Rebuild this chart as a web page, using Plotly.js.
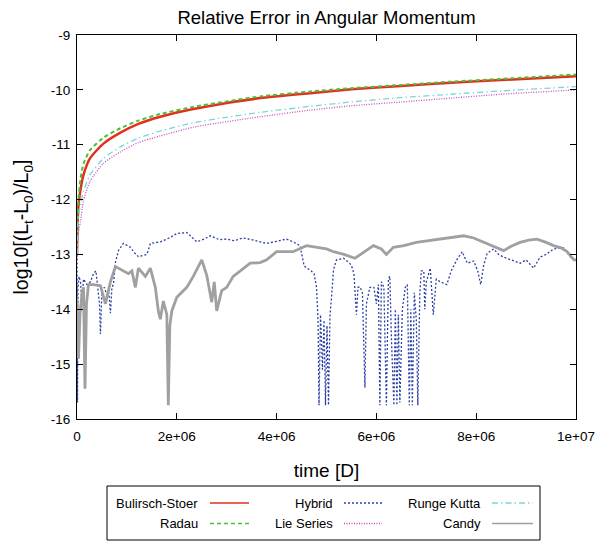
<!DOCTYPE html>
<html>
<head>
<meta charset="utf-8">
<script src="https://cdn.plot.ly/plotly-3.0.1.min.js"></script>
<style>html,body{margin:0;padding:0;background:#fff;}#chart{width:603px;height:542px;}</style>
</head>
<body>
<div id="chart"></div>
<script>
// ---- Data (time in days, values are log10 relative error) ----
var smoothTime = [0, 0.01e6, 0.03e6, 0.07e6, 0.13e6, 0.26e6, 0.53e6, 0.87e6, 1.23e6, 1.67e6, 2.33e6, 3.0e6, 3.67e6, 4.67e6, 5.5e6, 6.5e6, 7.5e6, 8.5e6, 1.0e7];
var bulirschStoer = [-13.0, -12.5, -12.1, -11.82, -11.55, -11.25, -10.98, -10.78, -10.62, -10.49, -10.35, -10.24, -10.15, -10.06, -9.99, -9.93, -9.87, -9.82, -9.75];
var radau = [-13.0, -12.4, -11.98, -11.62, -11.35, -11.1, -10.87, -10.7, -10.56, -10.44, -10.31, -10.21, -10.12, -10.03, -9.97, -9.91, -9.85, -9.8, -9.72];
var rungeKutta = [-13.0, -12.6, -12.3, -12.1, -11.85, -11.55, -11.25, -11.04, -10.88, -10.75, -10.6, -10.5, -10.41, -10.3, -10.22, -10.14, -10.08, -10.02, -9.94];
var lieSeries = [-13.1, -12.8, -12.6, -12.4, -12.02, -11.67, -11.34, -11.13, -10.96, -10.84, -10.68, -10.58, -10.49, -10.37, -10.29, -10.22, -10.15, -10.08, -10.0];

var hybridTime = [0, 0.01e6, 0.02e6, 0.04e6, 0.07e6, 0.1e6, 0.13e6, 0.2e6, 0.27e6, 0.33e6, 0.38e6, 0.42e6, 0.45e6, 0.47e6, 0.5e6, 0.55e6, 0.6e6, 0.64e6, 0.67e6, 0.7e6, 0.73e6, 0.77e6, 0.83e6, 0.93e6, 1.07e6, 1.15e6, 1.23e6, 1.32e6, 1.4e6, 1.47e6, 1.67e6, 1.85e6, 2.0e6, 2.2e6, 2.4e6, 2.55e6, 2.67e6, 2.85e6, 3.0e6, 3.15e6, 3.33e6, 3.55e6, 3.8e6, 4.0e6, 4.2e6, 4.35e6, 4.47e6, 4.55e6, 4.6e6, 4.67e6, 4.75e6, 4.8e6, 4.83e6, 4.85e6, 4.88e6, 4.92e6, 4.95e6, 4.98e6, 5.01e6, 5.04e6, 5.07e6, 5.1e6, 5.14e6, 5.2e6, 5.34e6, 5.45e6, 5.5e6, 5.55e6, 5.6e6, 5.63e6, 5.67e6, 5.72e6, 5.77e6, 5.8e6, 5.87e6, 5.95e6, 6.0e6, 6.04e6, 6.07e6, 6.1e6, 6.15e6, 6.2e6, 6.24e6, 6.27e6, 6.3e6, 6.35e6, 6.38e6, 6.41e6, 6.44e6, 6.47e6, 6.52e6, 6.58e6, 6.62e6, 6.66e6, 6.69e6, 6.72e6, 6.76e6, 6.8e6, 6.83e6, 6.87e6, 6.9e6, 6.95e6, 6.97e6, 7.0e6, 7.08e6, 7.14e6, 7.2e6, 7.28e6, 7.41e6, 7.5e6, 7.61e6, 7.72e6, 7.82e6, 7.95e6, 8.03e6, 8.09e6, 8.15e6, 8.22e6, 8.35e6, 8.45e6, 8.55e6, 8.7e6, 8.88e6, 9.0e6, 9.15e6, 9.28e6, 9.4e6, 9.55e6, 9.75e6, 9.89e6, 1.0e7];
var hybrid = [-13.0, -15.7, -13.6, -13.4, -13.5, -13.9, -13.45, -13.55, -13.5, -13.35, -13.3, -13.6, -13.9, -14.45, -13.65, -13.6, -13.75, -13.7, -14.07, -13.6, -13.55, -13.15, -12.93, -12.8, -12.87, -12.97, -13.04, -13.02, -13.0, -12.8, -12.77, -12.7, -12.62, -12.6, -12.77, -12.72, -12.66, -12.73, -12.72, -12.75, -12.7, -12.74, -12.8, -12.76, -12.72, -12.78, -12.84, -13.2, -13.25, -13.28, -13.35, -13.6, -14.2, -15.75, -14.1, -15.1, -14.2, -15.75, -14.3, -15.75, -14.1, -13.8, -13.28, -13.1, -13.07, -13.15, -13.2, -13.35, -14.1, -13.6, -13.59, -13.7, -15.43, -13.9, -13.6, -13.6, -13.9, -13.55, -15.75, -13.5, -13.6, -15.75, -13.45, -13.4, -14.5, -15.75, -14.0, -15.75, -14.1, -15.7, -14.0, -13.6, -13.55, -15.75, -14.0, -15.75, -13.7, -14.2, -15.75, -13.7, -13.3, -13.3, -14.0, -13.5, -13.25, -14.1, -13.45, -13.5, -13.55, -13.3, -13.1, -12.95, -13.16, -13.12, -13.3, -13.55, -13.2, -12.98, -12.9, -13.0, -13.05, -13.1, -13.16, -13.1, -13.25, -13.05, -13.0, -12.9, -12.88, -13.05, -13.13];

var candyTime = [0, 0.03e6, 0.06e6, 0.1e6, 0.13e6, 0.16e6, 0.19e6, 0.23e6, 0.33e6, 0.47e6, 0.57e6, 0.67e6, 0.77e6, 0.9e6, 1.03e6, 1.1e6, 1.17e6, 1.23e6, 1.37e6, 1.47e6, 1.57e6, 1.63e6, 1.67e6, 1.73e6, 1.8e6, 1.83e6, 1.86e6, 1.9e6, 2.0e6, 2.2e6, 2.33e6, 2.5e6, 2.6e6, 2.7e6, 2.75e6, 2.8e6, 2.9e6, 3.0e6, 3.13e6, 3.3e6, 3.47e6, 3.67e6, 3.8e6, 4.0e6, 4.33e6, 4.6e6, 4.8e6, 5.0e6, 5.14e6, 5.35e6, 5.57e6, 5.75e6, 5.94e6, 6.1e6, 6.2e6, 6.34e6, 6.55e6, 6.8e6, 7.05e6, 7.28e6, 7.5e6, 7.75e6, 7.95e6, 8.15e6, 8.35e6, 8.55e6, 8.7e6, 8.88e6, 9.05e6, 9.22e6, 9.4e6, 9.55e6, 9.7e6, 9.82e6, 9.96e6, 1.0e7];
var candy = [-13.8, -14.9, -14.1, -13.7, -13.6, -15.45, -13.9, -13.55, -13.55, -13.57, -13.9, -13.5, -13.22, -13.28, -13.35, -13.3, -13.6, -13.25, -13.4, -13.25, -13.6, -14.03, -14.18, -13.85, -14.1, -15.75, -14.3, -14.03, -13.78, -13.6, -13.4, -13.1, -13.38, -13.87, -13.5, -14.03, -13.66, -13.6, -13.4, -13.28, -13.16, -13.15, -13.1, -12.95, -12.95, -12.84, -12.87, -12.9, -12.95, -13.0, -13.07, -12.95, -12.84, -12.9, -13.0, -12.87, -12.84, -12.78, -12.75, -12.72, -12.7, -12.66, -12.7, -12.78, -12.85, -12.93, -12.85, -12.78, -12.74, -12.72, -12.78, -12.84, -12.88, -12.95, -13.1, -13.1];

var xTickVals = [0, 2e6, 4e6, 6e6, 8e6, 1e7];
var xTickText = ['0', '2e+06', '4e+06', '6e+06', '8e+06', '1e+07'];
var yTickVals = [-16, -15, -14, -13, -12, -11, -10, -9];
var yTickText = ['-16', '-15', '-14', '-13', '-12', '-11', '-10', '-9'];

var seriesNames = ['Bulirsch-Stoer', 'Radau', 'Hybrid', 'Lie Series', 'Runge Kutta', 'Candy'];

// ---- Styles ----
var FONT = 'Liberation Sans, Arial, Helvetica, sans-serif';
var styles = {
  'Bulirsch-Stoer': {color: '#e3301e', width: 2.5, dash: 'solid'},
  'Radau': {color: '#4cbf3a', width: 2, dash: '4px,3px'},
  'Hybrid': {color: '#2b40a3', width: 1.3, dash: '2px,2px'},
  'Lie Series': {color: '#c94bc0', width: 1.3, dash: '1px,1.5px'},
  'Runge Kutta': {color: '#78d8d4', width: 1.3, dash: '6px,3px,1.5px,3px'},
  'Candy': {color: '#a0a0a0', width: 2.8, dash: 'solid'}
};

var seriesData = {
  'Bulirsch-Stoer': [smoothTime, bulirschStoer],
  'Radau': [smoothTime, radau],
  'Hybrid': [hybridTime, hybrid],
  'Lie Series': [smoothTime, lieSeries],
  'Runge Kutta': [smoothTime, rungeKutta],
  'Candy': [candyTime, candy]
};

var traces = seriesNames.map(function (n) {
  var s = styles[n];
  return {
    type: 'scatter', mode: 'lines', name: n,
    x: seriesData[n][0], y: seriesData[n][1],
    line: {color: s.color, width: s.width, dash: s.dash, shape: (n === 'Hybrid' || n === 'Candy') ? 'linear' : 'spline', smoothing: 0.6},
    showlegend: false, hoverinfo: 'skip'
  };
});

// ---- Layout geometry (pixels) ----
var W = 603, H = 542;
var M = {l: 77, r: 27, t: 35, b: 123};
var plotW = W - M.l - M.r, plotH = H - M.t - M.b;
function px(x) { return (x - M.l) / plotW; }
function py(y) { return (H - M.b - y) / plotH; }

// custom legend (gnuplot style: text then sample)
var legendBox = {x0: 107, x1: 540, y0: 486, y1: 540};
var legendRows = [503, 523.5];
var legendCols = [
  {textRight: 200, s0: 210, s1: 249},
  {textRight: 335, s0: 344, s1: 382},
  {textRight: 483, s0: 492, s1: 533}
];
var shapes = [{
  type: 'rect', xref: 'paper', yref: 'paper',
  x0: px(legendBox.x0), x1: px(legendBox.x1), y0: py(legendBox.y1), y1: py(legendBox.y0),
  line: {color: '#000', width: 1}, fillcolor: 'rgba(0,0,0,0)'
}];
var annotations = [];
seriesNames.forEach(function (n, i) {
  var col = legendCols[Math.floor(i / 2)], row = legendRows[i % 2];
  var s = styles[n];
  annotations.push({
    xref: 'paper', yref: 'paper', x: px(col.textRight), y: py(row),
    xanchor: 'right', yanchor: 'middle', text: n, showarrow: false,
    font: {family: FONT, size: 13, color: '#000'}
  });
  shapes.push({
    type: 'line', xref: 'paper', yref: 'paper',
    x0: px(col.s0), x1: px(col.s1), y0: py(row), y1: py(row),
    line: {color: s.color, width: Math.min(s.width, 1.6), dash: s.dash}
  });
});

var layout = {
  width: W, height: H,
  margin: M,
  paper_bgcolor: '#fff', plot_bgcolor: '#fff',
  font: {family: FONT, color: '#000'},
  showlegend: false,
  title: {text: 'Relative Error in Angular Momentum', x: 0.5, xref: 'paper', y: 0.968, yanchor: 'middle', font: {family: FONT, size: 18.5, color: '#000'}},
  xaxis: {
    range: [0, 1e7], tickmode: 'array', tickvals: xTickVals, ticktext: xTickText,
    ticks: 'inside', ticklen: 6, tickcolor: '#000', tickwidth: 1,
    showline: true, linecolor: '#000', linewidth: 1, mirror: 'ticks',
    showgrid: false, zeroline: false, ticklabelstandoff: 5,
    tickfont: {family: FONT, size: 13.5, color: '#000'},
    title: {text: 'time [D]', font: {family: FONT, size: 19, color: '#000'}, standoff: 20}
  },
  yaxis: {
    range: [-16, -9], tickmode: 'array', tickvals: yTickVals, ticktext: yTickText,
    ticks: 'inside', ticklen: 6, tickcolor: '#000', tickwidth: 1,
    showline: true, linecolor: '#000', linewidth: 1, mirror: 'ticks',
    showgrid: false, zeroline: false, ticklabelstandoff: 3,
    tickfont: {family: FONT, size: 13.5, color: '#000'},
    title: {text: 'log10[(L<sub>t</sub>-L<sub>0</sub>)/L<sub>0</sub>]', font: {family: FONT, size: 19.5, color: '#000'}, standoff: 16}
  },
  shapes: shapes,
  annotations: annotations
};

Plotly.newPlot('chart', traces, layout, {staticPlot: true, displayModeBar: false});
</script>
</body>
</html>
